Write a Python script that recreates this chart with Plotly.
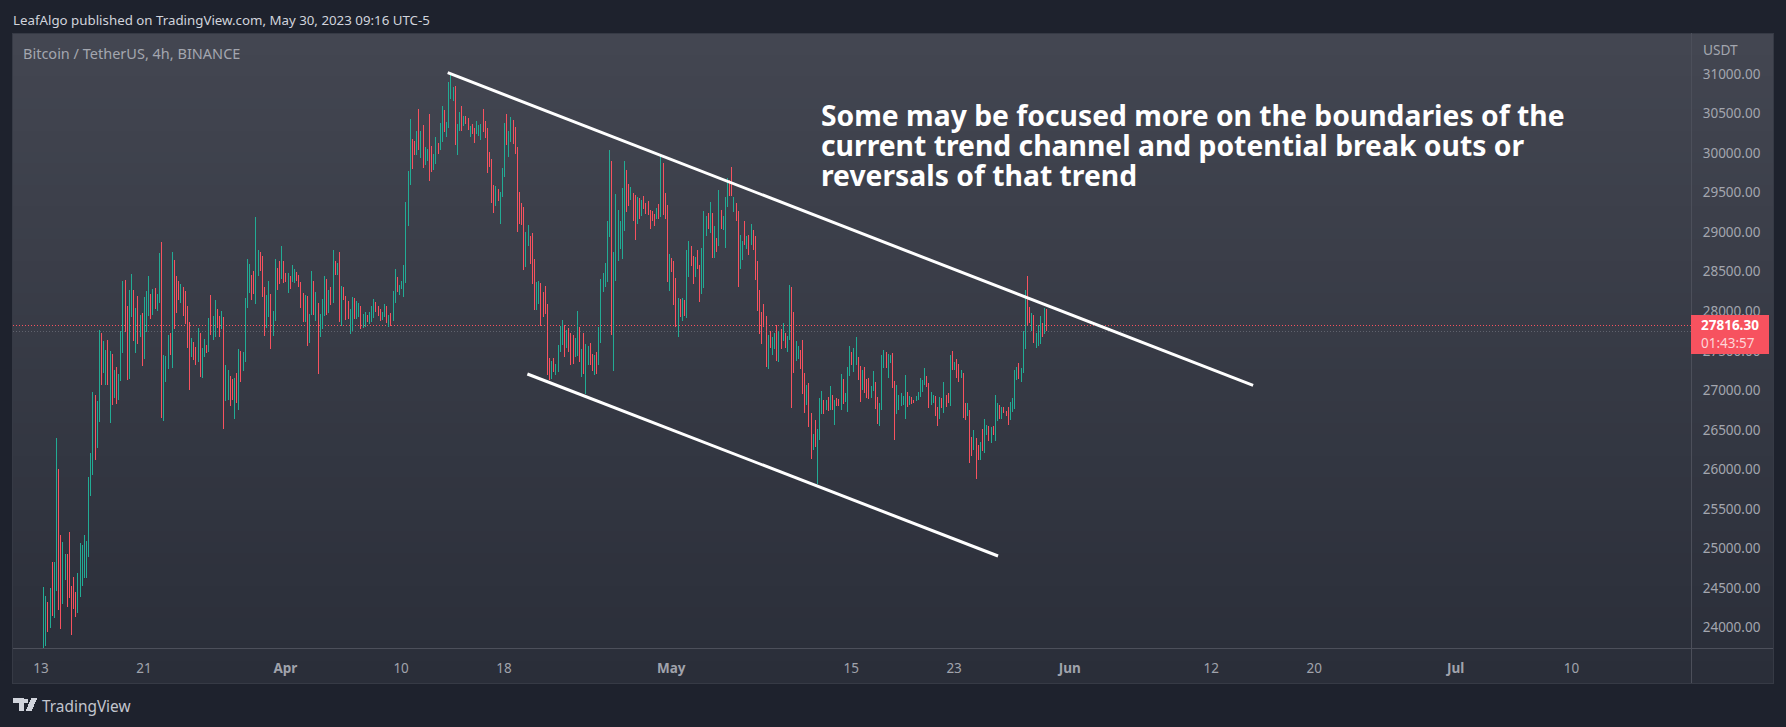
import pandas as pd
import plotly.graph_objects as go

W, H = 1786, 727

# 4h bars, first bar is 13 Mar
highs = [
    24515,24401,24325,24502,24831,24831,26394,26007,25172,25084,24932,24932,25210,24527,24641,24452,24692,25071,25046,25172,
    25096,25905,26209,26980,26942,26866,27764,27726,27625,27511,27637,27498,27460,27258,27296,27208,27751,28383,28396,28067,
    28269,28472,28269,28042,28194,27953,27979,28181,28257,28446,28219,28282,28295,28219,28737,28876,27448,27435,27701,27726,
    28750,28649,28446,28383,28345,28307,28257,28067,27865,27663,27612,27549,27789,27726,27536,27650,27574,27916,28206,27941,28143,
    28029,27940,28003,27927,27321,27257,27182,27144,27156,27220,27523,27498,27485,28168,28661,28597,28458,28509,29192,28774,
    28749,28699,28307,28206,28383,28218,28003,28661,28547,28635,28825,28635,28484,28484,28446,28585,28534,28496,28458,28370,
    28231,28206,28193,27965,28509,28383,28243,28104,27965,28155,28446,28408,28269,28307,28774,28635,28610,28749,28319,28307,
    28193,28130,28029,28180,28168,28130,28104,28066,27965,27991,27953,27991,28066,28155,28117,28066,28029,27991,28092,28066,
    27953,27978,28256,
    28535,28434,28333,28383,28586,29382,29774,30431,30178,30153,30280,30558,30280,30355,30077,30052,30495,30090,29989,30204,
    30128,30381,30596,30545,30393,30899,31000,30836,30848,30368,30520,30596,30469,30469,30444,30343,30368,30318,30406,30355,
    30368,30558,30406,30318,30014,29926,29597,29584,29546,29508,29812,30381,30495,30280,30457,30419,30330,30077,29508,29369,
    29319,29003,29091,28952,28990,28661,28371,28383,28358,28244,28320,28093,27410,27372,27410,27334,27574,27814,27890,27827,
    27764,27789,27726,27701,
    27663,28004,27802,27524,27726,27587,27562,27600,27461,27448,27486,27802,28409,28485,28611,29142,30040,29901,28750,29483,
    29281,29142,29559,29901,29787,29610,29572,29496,29471,29445,29433,29407,29458,29370,29395,29281,29268,29230,29306,29357,
    29989,29875,29496,29344,28725,28674,28636,28421,28169,28156,28169,28143,28775,28889,28826,28700,28687,28775,28586,28801,
    29268,29205,29243,29382,29243,29079,28927,29534,29281,29205,29445,29686,29660,29825,29445,29370,29268,28965,28889,29142,
    28952,28965,29104,29028,
    28952,28636,28269,27991,28092,27940,27700,27751,27675,27726,27827,27751,27776,27852,27726,27687,28332,28307,27991,27624,
    27561,27511,27637,27220,27068,27093,26714,26449,26626,26512,26904,26992,26878,26878,26916,27055,26942,26878,26904,26891,
    27207,27144,26967,27296,27561,27485,27536,27675,27422,27308,27257,27296,27144,27157,27055,27245,27106,26916,26840,27447,
    27511,27485,27460,27447,27472,27118,27068,26941,26967,26929,
    27194,26979,26929,26916,26878,26929,26979,27156,27131,27283,27182,27093,26979,26941,26929,26790,26916,26903,27106,26941,
    26967,27447,27498,27358,27396,27333,27257,27219,26840,26840,26752,26410,26499,26398,26309,26347,26511,26638,26562,26549,
    26537,26549,26941,26840,26815,26790,26790,26739,26790,26853,26903,27257,27295,27346,27283,27750,28269,28446,28054,27978,
    27952,27725,27826,27940,27851,28041,28028,
]
lows = [
    23743,23769,23946,23996,24148,24123,24464,24224,23984,24300,24603,24262,24376,23908,24237,24136,24186,24388,24527,24629,
    24629,24894,25665,25931,26120,26272,26601,27068,27220,27068,27068,26588,26816,26904,26828,26879,27119,27473,27738,27132,
    27144,27928,27625,27473,27587,27675,27309,27397,27738,27941,27903,27953,28029,28004,28105,26651,26613,27106,27271,27448,
    27283,27776,27979,28143,28105,27941,27840,27536,27005,27422,27385,27321,27359,27170,27157,27422,27473,27486,27701,27637,27675,
    27788,27675,27776,26512,26866,26878,26802,26878,26638,26840,26752,27106,27245,27359,28041,28231,28142,28218,28092,28446,
    28509,28180,27687,27788,27927,27523,27687,27877,28269,28345,28408,28357,28370,28231,28281,28370,28357,28383,28307,28041,
    27864,27864,27561,27599,27953,27953,27877,27207,27675,27776,27940,27953,27978,28079,28104,28458,28458,27864,27814,28142,
    27890,27902,27713,27750,27902,27902,27927,27776,27788,27801,27864,27839,27864,27915,27991,27940,27877,27890,27927,27852,
    27801,27814,27877,
    28105,28244,28206,28282,28181,28358,29079,29597,29799,29976,29976,30039,29938,29812,29850,29900,29648,29761,29787,29862,
    29989,30039,30141,30267,30204,30318,30684,30659,30103,29976,30280,30280,30343,30368,30292,30204,30242,30128,30242,30216,
    30166,30267,30191,29749,29825,29369,29243,29331,29395,29104,29445,29698,30103,29951,30141,30115,29989,29003,29104,29091,
    28522,28560,28826,28598,28345,28017,28017,28093,27814,27928,27966,27195,27132,27144,27233,27195,27233,27486,27574,27423,
    27536,27486,27321,27334,
    27423,27435,27359,27170,27208,26955,27322,27322,27246,27195,27208,27322,27600,28244,28308,28371,28940,27701,27246,28383,
    28636,28788,28662,29016,29256,29332,29407,29142,28902,29104,29167,29205,29294,29230,29218,29041,29142,29079,29167,29167,
    29193,29218,29167,28371,28257,28497,28080,27802,27676,27928,27878,27941,27916,28434,28573,28346,28434,28535,28118,28219,
    28295,28952,29041,28990,28674,28674,28750,28826,29041,29028,28801,29319,29458,29458,29256,29142,28308,28535,28649,28839,
    28788,28712,28839,28775,
    28396,28004,27713,27586,27801,27296,27270,27536,27447,27523,27371,27359,27523,27624,27536,27485,27637,26777,27220,27371,
    27397,27270,26954,26714,26815,26537,26133,26246,26284,25816,26373,26701,26701,26752,26739,26752,26752,26562,26803,26803,
    26752,26828,26853,26727,27182,27321,27232,27321,27131,26853,27005,26967,26904,26891,26904,26992,26765,26575,26550,26752,
    27283,27283,27157,27346,27030,26373,26701,26752,26803,26815,
    26638,26790,26815,26828,26840,26865,26878,26916,26979,27068,27042,26777,26815,26840,26676,26549,26638,26777,26714,26790,
    26840,26802,27257,27257,27156,27106,27156,26651,26625,26676,26082,26170,26246,25879,26120,26120,26233,26208,26436,26360,
    26335,26436,26360,26613,26638,26638,26714,26676,26562,26625,26726,26764,27131,27144,27106,27219,27523,27826,27851,27750,
    27599,27535,27561,27586,27674,27712,27750,
]
# G = up bar, R = down bar
directions = (
    "GGRGRGGRRG" "GRRRRRGGGG" "GGGGRGGRGG" "RGRGRGGGRR" "GGRGRGRGGG" "RGRGGRGGGR" "GRRRGRRRRG" "RRGRGGRGRGG"
    "RRGRGGRRGR" "GRGGGGRRGG" "RRRGGRGGRR" "GRRGRGGRRR" "RGRGGRGRGG" "GRGRGRGRGR" "RRGGRGGRGG" "RGGGRRRGGR" "GRG"
    "GRGGGGGGRR" "GRGRGGRRGG" "RGGRGGGGRG" "GRGRRGRRGG" "GRRRRRRGRG" "GGRGGRRRRR" "RGGRRRGGRR" "RRRGRGGGGR" "GRRR"
    "GGRGRGGRRG" "RGGGGGGRGG" "GGGGRRGRRG" "RGRRRRRRGR" "GRRRGRRRGR" "GRGGRRGRRG" "GGRGRGRGRG" "GGRRGRRGGR" "GRGR"
    "RRRRRRGRGG" "RGRGRGGRRG" "GRRRGRRGRG" "GGRGRGRGRR" "GRGGGRGGRR" "GRRRGGRRGG" "GRGGRRGGGG"
    "GRGRRGGGGG" "RRGGRRGRGR" "RGRGRRGRRG" "RRGRRGRGGR" "GRGGRGRRRG" "GGGRGGGRRG" "RGGGRGR"
)
assert len(highs) == len(lows) == len(directions), (len(highs), len(lows), len(directions))

price_ticks = [24000, 24500, 25000, 25500, 26000, 26500, 27000, 27500, 28000, 28500, 29000, 29500, 30000, 30500, 31000]
date_ticks = ["2023-03-13", "2023-03-21", "2023-04-01", "2023-04-10", "2023-04-18", "2023-05-01", "2023-05-15",
              "2023-05-23", "2023-06-01", "2023-06-12", "2023-06-20", "2023-07-01", "2023-07-10"]
date_labels = ["13", "21", "<b>Apr</b>", "10", "18", "<b>May</b>", "15", "23", "<b>Jun</b>", "12", "20", "<b>Jul</b>", "10"]

upper_x = ["2023-04-13 15:00", "2023-06-15 06:00"]
upper_y = [31016, 27062]
lower_x = ["2023-04-19 19:40", "2023-05-26 10:00"]
lower_y = [27207, 24906]

last_price = 27816.3
prev_level = 27740

note_lines = ["Some may be focused more on the boundaries of the",
              "current trend channel and potential break outs or",
              "reversals of that trend"]

GREEN = "#22ab94"
RED = "#f7525f"
FONT = "Noto Sans"


def px(x):
    return x / W


def py(y):
    return 1 - y / H


times = pd.date_range("2023-03-13 05:00", periods=len(highs), freq="4h")
opens = [l if d == "G" else h for h, l, d in zip(highs, lows, directions)]
closes = [h if d == "G" else l for h, l, d in zip(highs, lows, directions)]

fig = go.Figure()
fig.add_trace(go.Ohlc(
    x=times, open=opens, high=highs, low=lows, close=closes, tickwidth=0,
    increasing=dict(line=dict(color=GREEN, width=1)),
    decreasing=dict(line=dict(color=RED, width=1)),
))
for xs, ys in [(upper_x, upper_y), (lower_x, lower_y)]:
    fig.add_trace(go.Scatter(x=xs, y=ys, mode="lines", line=dict(color="white", width=3)))

# panel background, vertical gradient made of thin strips
shapes = []
steps = 60
top, bottom = 33.0, 683.0
c0, c1 = (0x43, 0x46, 0x51), (0x2a, 0x2e, 0x39)
for i in range(steps):
    t = i / (steps - 1)
    col = "rgb(%d,%d,%d)" % tuple(round(a + (b - a) * t) for a, b in zip(c0, c1))
    y0 = top + (bottom - top) * i / steps
    y1 = top + (bottom - top) * (i + 1) / steps
    shapes.append(dict(type="rect", xref="paper", yref="paper", layer="below", line_width=0, fillcolor=col,
                       x0=px(12.5), x1=px(1773), y0=py(y0), y1=py(y1 + 0.5)))
shapes.append(dict(type="rect", xref="paper", yref="paper", layer="below", fillcolor="rgba(0,0,0,0)",
                   line=dict(color="#363a45", width=1), x0=px(12.5), x1=px(1773), y0=py(33), y1=py(683)))

# axis separators
sep = "#4c4f5a"
shapes.append(dict(type="line", xref="paper", yref="paper", layer="below", line=dict(color=sep, width=1),
                   x0=px(1691), x1=px(1691), y0=py(33), y1=py(683)))
shapes.append(dict(type="line", xref="paper", yref="paper", layer="below", line=dict(color=sep, width=1),
                   x0=px(12.5), x1=px(1773), y0=py(648), y1=py(648)))

# price lines
shapes.append(dict(type="line", xref="paper", yref="y", layer="below", line=dict(color="#5f626d", width=1, dash="1px,2px"),
                   x0=px(13), x1=px(1691), y0=prev_level, y1=prev_level))
shapes.append(dict(type="line", xref="paper", yref="y", layer="below", line=dict(color=RED, width=1, dash="1px,2px"),
                   x0=px(13), x1=px(1691), y0=last_price, y1=last_price))

# price tag on the axis
shapes.append(dict(type="rect", xref="paper", yref="paper", layer="above", line_width=0, fillcolor=RED,
                   x0=px(1691), x1=px(1769), y0=py(315), y1=py(354)))


def logo_path():
    pts = []
    t = [(12.6, 698.3), (23.5, 698.3), (23.5, 711), (18.5, 711), (18.5, 703), (12.6, 703)]
    v = [(37.2, 698.3), (31.6, 711), (25.6, 711), (31.2, 698.3)]
    d = [(24.4, 698.6), (28.4, 698.6), (28.4, 702.8), (24.4, 702.8)]
    for poly in (t, v, d):
        pts.append("M" + " L".join("%.5f,%.5f" % (px(a), py(b)) for a, b in poly) + " Z")
    return " ".join(pts)


shapes.append(dict(type="path", xref="paper", yref="paper", layer="above", line_width=0, fillcolor="#d1d4dc",
                   path=logo_path()))


def note(text, x, y, size, color, bold=False):
    return dict(text="<b>%s</b>" % text if bold else text, xref="paper", yref="paper", x=px(x), y=py(y),
                xanchor="left", yanchor="middle", showarrow=False, borderpad=0, borderwidth=0,
                font=dict(family=FONT, size=size, color=color))


annotations = [
    note("LeafAlgo published on TradingView.com, May 30, 2023 09:16 UTC-5", 12.5, 20, 13.3, "#d1d4dc"),
    note("Bitcoin / TetherUS, 4h, BINANCE", 23, 53, 14.5, "#a3a6af"),
    note("USDT", 1703, 50, 13.7, "#a3a6af"),
    note("TradingView", 42, 706, 15.4, "#c3c6ce"),
    note("%.2f" % last_price, 1701, 325, 13.5, "white", bold=True),
    note("01:43:57", 1701, 343, 13.5, "#fdd5d8"),
]
for line, y in zip(note_lines, [115, 145, 175]):
    annotations.append(note(line, 821, y, 28.3, "white", bold=True))

fig.update_layout(
    width=W, height=H, margin=dict(l=0, r=0, t=0, b=0), showlegend=False,
    paper_bgcolor="#1e222d", plot_bgcolor="rgba(0,0,0,0)",
    font=dict(family=FONT, size=13, color="#a3a6af"),
    shapes=shapes, annotations=annotations,
    xaxis=dict(domain=[px(13), px(1691)], range=["2023-03-10 19:45", "2023-07-19 07:10"], type="date",
               rangeslider=dict(visible=False), showgrid=False, zeroline=False, showline=False,
               tickmode="array", tickvals=date_ticks, ticktext=date_labels, ticks="outside", ticklen=8,
               tickcolor="rgba(0,0,0,0)", tickfont=dict(family=FONT, size=13.5, color="#a0a3ac")),
    yaxis=dict(domain=[py(648), py(34)], range=[23743, 31505], side="right", showgrid=False, zeroline=False,
               showline=False, tickmode="array", tickvals=price_ticks, ticktext=["%.2f" % p for p in price_ticks],
               ticks="outside", ticklen=8, tickcolor="rgba(0,0,0,0)",
               tickfont=dict(family=FONT, size=13.5, color="#a3a6af")),
)

# bars and rules are 1px in the original, keep them from blurring
crisp = """
document.body.style.margin = '0';
document.querySelectorAll('.ohlclayer path, .shapelayer path').forEach(function (p) {
    p.style.shapeRendering = 'crispEdges';
});
"""
fig.write_html("out.html", config={"displayModeBar": False}, post_script=crisp)
